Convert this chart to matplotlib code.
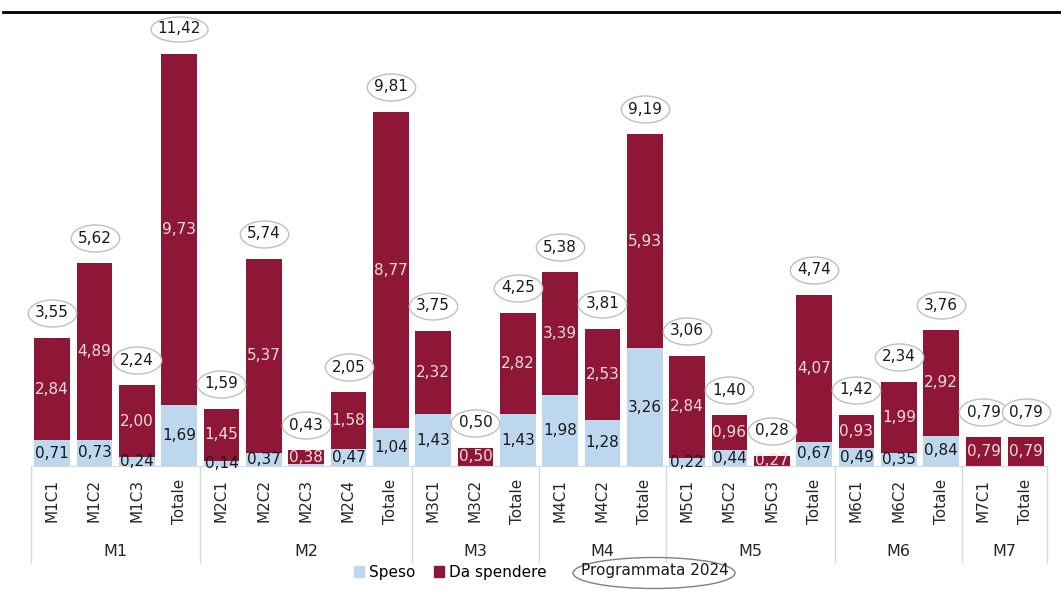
import numpy as np
import matplotlib.pyplot as plt
from matplotlib.lines import Line2D
from matplotlib.patches import Patch, Ellipse
from matplotlib.path import Path
from matplotlib.transforms import ScaledTranslation

# data
categories = ['M1C1', 'M1C2', 'M1C3', 'Totale',
              'M2C1', 'M2C2', 'M2C3', 'M2C4', 'Totale',
              'M3C1', 'M3C2', 'Totale',
              'M4C1', 'M4C2', 'Totale',
              'M5C1', 'M5C2', 'M5C3', 'Totale',
              'M6C1', 'M6C2', 'Totale',
              'M7C1', 'Totale']
groups = ['M1', 'M2', 'M3', 'M4', 'M5', 'M6', 'M7']
group_sizes = [4, 5, 3, 3, 4, 3, 2]
speso = [0.71, 0.73, 0.24, 1.69,
         0.14, 0.37, 0.05, 0.47, 1.04,
         1.43, 0.00, 1.43,
         1.98, 1.28, 3.26,
         0.22, 0.44, 0.01, 0.67,
         0.49, 0.35, 0.84,
         0.00, 0.00]
da_spendere = [2.84, 4.89, 2.00, 9.73,
               1.45, 5.37, 0.38, 1.58, 8.77,
               2.32, 0.50, 2.82,
               3.39, 2.53, 5.93,
               2.84, 0.96, 0.27, 4.07,
               0.93, 1.99, 2.92,
               0.79, 0.79]
programmata = [3.55, 5.62, 2.24, 11.42,
               1.59, 5.74, 0.43, 2.05, 9.81,
               3.75, 0.50, 4.25,
               5.38, 3.81, 9.19,
               3.06, 1.40, 0.28, 4.74,
               1.42, 2.34, 3.76,
               0.79, 0.79]

col_speso = '#BDD7EE'
col_da = '#8E1738'


def fmt(v):
    return f'{v:.2f}'.replace('.', ',')


def ellipse_marker(w, h):
    circ = Path.unit_circle()
    return Path(circ.vertices * np.array([1.0, h / w]), circ.codes)


fig = plt.figure(figsize=(10.61, 5.97), dpi=100)
fig.patch.set_facecolor('white')
ax = fig.add_axes([31/1061, 1 - 466/597, 1016/1061, 454/597])

x = range(len(categories))
ax.bar(x, speso, width=0.85, color=col_speso)
ax.bar(x, da_spendere, width=0.85, bottom=speso, color=col_da)

# offset for the total labels (above bar top)
up = ax.transData + ScaledTranslation(0, 18/72, fig.dpi_scale_trans)

for i in x:
    if speso[i] >= 0.1:
        ax.text(i, speso[i] / 2, fmt(speso[i]),
                ha='center', va='center', fontsize=11, color='#1a1a1a')
    ax.text(i, speso[i] + da_spendere[i] / 2, fmt(da_spendere[i]),
            ha='center', va='center', fontsize=11, color='#F2DCDB')
    top = speso[i] + da_spendere[i]
    lab = fmt(programmata[i])
    w = 14 + 8.6 * len(lab)
    h = 27 if len(lab) < 5 else 25
    ax.plot(i, top, transform=up, marker=ellipse_marker(w, h), markersize=w * 0.72,
            markerfacecolor='white', markeredgecolor='#BFBFBF', markeredgewidth=1,
            clip_on=False, zorder=3)
    ax.text(i, top, lab, transform=up, ha='center', va='center', fontsize=11,
            color='#1a1a1a', zorder=4)

ax.set_xlim(-0.5, len(categories) - 0.5)
ax.set_ylim(0, 12.58)
ax.set_xticks(list(x))
ax.set_xticklabels(categories, rotation=90, fontsize=11, color='#262626')
ax.tick_params(axis='x', length=0, pad=9)
ax.set_yticks([])
for s in ['top', 'left', 'right']:
    ax.spines[s].set_visible(False)
ax.spines['bottom'].set_color('#D9D9D9')

# group separators and labels
trans = ax.get_xaxis_transform()
start = -0.5
for g, n in zip(groups, group_sizes):
    ax.plot([start, start], [0, -0.211], transform=trans, color='#D9D9D9', lw=1, clip_on=False)
    ax.text(start + n / 2, -0.189, g, transform=trans, ha='center', va='center',
            fontsize=11.5, color='#262626')
    start += n
ax.plot([start, start], [0, -0.211], transform=trans, color='#D9D9D9', lw=1, clip_on=False)

# top rule
fig.add_artist(Line2D([3/1061, 1], [1 - 12/597, 1 - 12/597], color='black', lw=2))

# legend
handles = [Patch(color=col_speso, label='Speso'), Patch(color=col_da, label='Da spendere')]
fig.legend(handles=handles, loc='center', bbox_to_anchor=(450/1061, 1 - 572/597), ncol=2,
           frameon=False, fontsize=11, handlelength=0.7, handleheight=0.7,
           handletextpad=0.3, columnspacing=1.2)
fig.add_artist(Ellipse((654/1061, 1 - 573/597), 162/1061, 31/597, transform=fig.transFigure,
                       fill=False, ec='#808080', lw=1))
fig.text(655/1061, 1 - 571/597, 'Programmata 2024', ha='center', va='center', fontsize=11,
         color='#1a1a1a')

plt.savefig('out.png', dpi=100)
